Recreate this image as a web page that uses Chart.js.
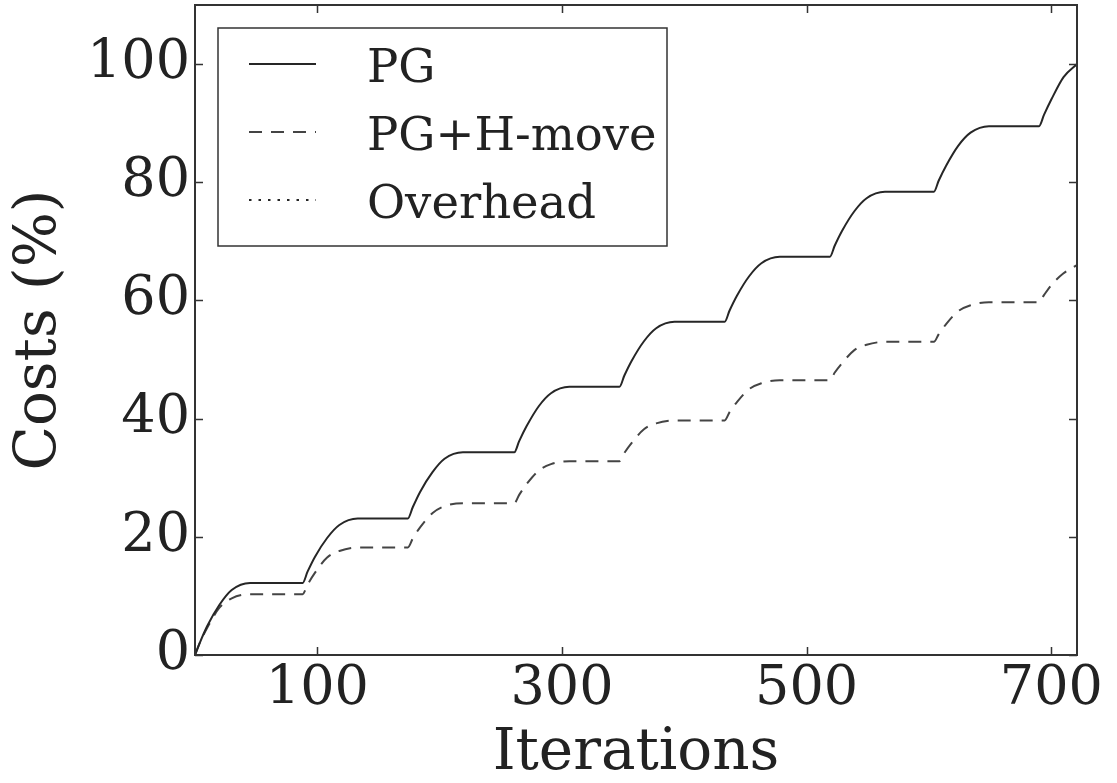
<!DOCTYPE html>
<html>
<head>
<meta charset="utf-8">
<script src="https://cdn.jsdelivr.net/npm/chart.js@4"></script>
<style>
  html, body { margin: 0; padding: 0; background: #fff; }
  canvas { display: block; }
</style>
</head>
<body>
<canvas id="chart" width="1117" height="783"></canvas>
<script>
const iterations = [
  0, 4, 10, 20, 30, 45,
  88, 92, 98, 108, 118, 133,
  174, 178, 184, 194, 204, 219,
  261, 265, 271, 281, 291, 306,
  347, 351, 357, 367, 377, 392,
  433, 437, 443, 453, 463, 478,
  519, 523, 529, 539, 549, 564,
  604, 608, 614, 624, 634, 649,
  690, 694, 700, 710, 721
];

// cumulative costs (%)
const pgCosts = [
  0, 2.1, 4.9, 8.5, 11.0, 12.2,
  12.2, 14.1, 16.6, 19.8, 22.0, 23.1,
  23.1, 25.0, 27.6, 30.9, 33.2, 34.3,
  34.3, 36.2, 38.7, 42.1, 44.3, 45.4,
  45.4, 47.3, 49.8, 53.1, 55.3, 56.4,
  56.4, 58.3, 60.8, 64.1, 66.3, 67.4,
  67.4, 69.3, 71.8, 75.1, 77.3, 78.4,
  78.4, 80.3, 82.8, 86.2, 88.4, 89.5,
  89.5, 91.4, 94.0, 97.8, 100
];

const hmoveCosts = [
  0, 2.1, 4.6, 8.0, 9.6, 10.3,
  10.3, 11.9, 13.9, 16.5, 17.6, 18.2,
  18.2, 19.7, 21.6, 24.0, 25.2, 25.7,
  25.7, 27.1, 28.9, 31.2, 32.3, 32.8,
  32.8, 34.2, 35.9, 38.2, 39.2, 39.7,
  39.7, 41.1, 42.8, 45.0, 46.0, 46.5,
  46.5, 47.8, 49.4, 51.6, 52.5, 53.0,
  53.0, 54.3, 56.0, 58.2, 59.2, 59.7,
  59.7, 60.9, 62.6, 64.6, 66.0
];

// overhead curve is not visible in the plot, only in the legend
const overheadCosts = [];

const xTickValues = [100, 300, 500, 700];
const yTickValues = [0, 20, 40, 60, 80, 100];

const SERIF = '"DejaVu Serif", serif';
const INK = '#222';

const toPoints = ys => ys.map((v, i) => ({ x: iterations[i], y: v }));

// matplotlib-style box with inward ticks on all four sides
const frameAndTicks = {
  id: 'frameAndTicks',
  afterDatasetsDraw(chart) {
    const { ctx, chartArea: a, scales: { x, y } } = chart;
    ctx.save();
    ctx.strokeStyle = '#333';
    ctx.lineWidth = 1.5;
    ctx.beginPath();
    xTickValues.forEach(v => {
      const px = Math.round(x.getPixelForValue(v)) + 0.5;
      ctx.moveTo(px, a.bottom); ctx.lineTo(px, a.bottom - 8);
      ctx.moveTo(px, a.top); ctx.lineTo(px, a.top + 8);
    });
    yTickValues.forEach(v => {
      const py = Math.round(y.getPixelForValue(v)) + 0.5;
      ctx.moveTo(a.left, py); ctx.lineTo(a.left + 8, py);
      ctx.moveTo(a.right, py); ctx.lineTo(a.right - 8, py);
    });
    ctx.stroke();
    ctx.lineWidth = 2;
    ctx.strokeRect(a.left, a.top, a.width, a.height);
    ctx.restore();
  }
};

// legend box drawn inside the plot, upper left
const boxLegend = {
  id: 'boxLegend',
  afterDraw(chart) {
    const { ctx } = chart;
    const box = { x: 218, y: 28, w: 449, h: 218 };
    ctx.save();
    ctx.fillStyle = '#fff';
    ctx.fillRect(box.x, box.y, box.w, box.h);
    ctx.strokeStyle = '#333';
    ctx.lineWidth = 1.5;
    ctx.strokeRect(box.x, box.y, box.w, box.h);
    ctx.font = '46.5px ' + SERIF;
    ctx.textBaseline = 'alphabetic';
    ctx.fillStyle = INK;
    chart.data.datasets.forEach((ds, i) => {
      const base = 82 + i * 68;
      const ly = base - 18;
      ctx.beginPath();
      ctx.setLineDash(ds.borderDash || []);
      ctx.strokeStyle = ds.borderColor;
      ctx.lineWidth = 1.8;
      ctx.moveTo(249, ly);
      ctx.lineTo(316, ly);
      ctx.stroke();
      ctx.setLineDash([]);
      ctx.fillText(ds.label, 367, base);
    });
    ctx.restore();
  }
};

new Chart(document.getElementById('chart'), {
  type: 'line',
  data: {
    datasets: [
      {
        label: 'PG',
        data: toPoints(pgCosts),
        borderColor: '#262626',
        borderWidth: 2,
        pointRadius: 0,
        cubicInterpolationMode: 'monotone',
        fill: false,
      },
      {
        label: 'PG+H-move',
        data: toPoints(hmoveCosts),
        borderColor: '#444',
        borderWidth: 2,
        borderDash: [13, 9],
        pointRadius: 0,
        cubicInterpolationMode: 'monotone',
        fill: false,
      },
      {
        label: 'Overhead',
        data: toPoints(overheadCosts),
        borderColor: '#262626',
        borderWidth: 2,
        borderDash: [2.5, 7],
        pointRadius: 0,
        fill: false,
      },
    ],
  },
  options: {
    responsive: false,
    animation: false,
    layout: { padding: { top: 5, right: 40, left: 0, bottom: 0 } },
    plugins: {
      legend: { display: false },
      tooltip: { enabled: false },
    },
    scales: {
      x: {
        type: 'linear',
        min: 0,
        max: 721,
        afterBuildTicks: axis => { axis.ticks = xTickValues.map(v => ({ value: v })); },
        afterFit: axis => { axis.height = 128; axis.paddingLeft = 0; axis.paddingRight = 0; },
        grid: { display: false, drawTicks: false },
        border: { display: false },
        ticks: { color: INK, padding: 3, maxRotation: 0, font: { family: SERIF, size: 54 } },
        title: {
          display: true,
          text: 'Iterations',
          color: INK,
          padding: 0,
          font: { family: SERIF, size: 58, lineHeight: 1 },
        },
      },
      y: {
        min: 0,
        max: 110,
        afterBuildTicks: axis => { axis.ticks = yTickValues.map(v => ({ value: v })); },
        afterFit: axis => { axis.width = 195; axis.paddingTop = 0; axis.paddingBottom = 0; },
        grid: { display: false, drawTicks: false },
        border: { display: false },
        ticks: { color: INK, padding: 5, font: { family: SERIF, size: 54 } },
        title: {
          display: true,
          text: 'Costs (%)',
          color: INK,
          padding: { top: 11, bottom: 0 },
          font: { family: SERIF, size: 58, lineHeight: 1 },
        },
      },
    },
  },
  plugins: [frameAndTicks, boxLegend],
});
</script>
</body>
</html>
